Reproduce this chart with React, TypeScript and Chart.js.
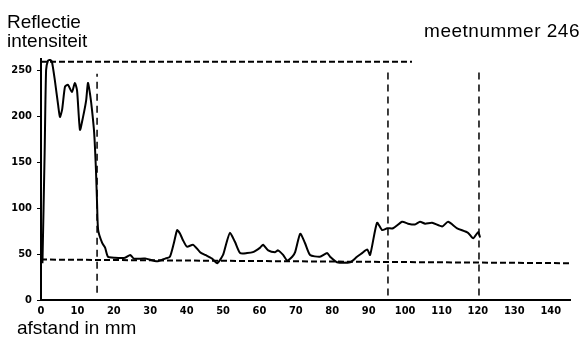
import React, { useEffect, useRef } from "react";
import { Chart, registerables } from "chart.js";

Chart.register(...registerables);

// ---- data ----
const distance = [
  0.4, 1.0, 1.4, 1.9, 2.5, 3.0, 3.8, 4.7, 5.2, 5.8, 6.6, 7.4, 8.5, 9.3, 9.9, 10.7, 11.5, 12.4, 12.9, 13.5, 14.0,
  14.6, 15.1, 15.4, 15.7, 16.8, 17.6, 18.4, 20.3, 23.1, 24.5, 25.5, 28.6, 31.9, 34.1, 35.4, 36.5, 37.4, 38.2,
  39.0, 40.1, 41.8, 43.7, 45.1, 47.0, 48.4, 50.0, 50.8, 51.9, 53.3, 54.7, 56.6, 58.2, 60.2, 61.0, 62.4, 64.3,
  65.1, 66.5, 67.6, 69.0, 69.8, 71.2, 72.5, 73.9, 76.6, 78.6, 79.4, 81.3, 84.9, 86.8, 88.2, 89.6, 90.4, 92.3,
  93.7, 95.1, 96.7, 99.2, 100.8, 102.7, 104.1, 105.5, 107.4, 110.2, 111.8, 114.3, 117.3, 118.7, 120.1, 120.6,
];
const intensity = [
  40, 160, 250, 260, 261, 259, 239, 212, 199, 207, 232, 234, 226, 236, 228, 185, 198, 217, 236, 223, 207,
  182, 141, 105, 76, 62, 57, 47, 46, 46, 49, 45, 45, 42, 45, 47, 62, 76, 72,
  65, 58, 60, 52, 49, 45, 40, 49, 60, 73, 63, 51, 51, 52, 57, 60, 54, 52,
  54, 49, 43, 47, 52, 72, 62, 49, 47, 51, 47, 41, 41, 47, 51, 55, 49, 84,
  76, 78, 78, 85, 83, 82, 85, 83, 84, 80, 85, 78, 73, 67, 74, 68,
];

const xTicks = [0, 10, 20, 30, 40, 50, 60, 70, 80, 90, 100, 110, 120, 130, 140];
const yTicks = [0, 50, 100, 150, 200, 250];

// dashed guide lines
const topLineX = [0, 101.9];
const topLineY = [259, 259];
const baseLineX = [0, 145.3];
const baseLineY = [44, 40];
const verticalX = [15.4, 95.3, 120.3];
const verticalFromY = [8, 5, 5];
const verticalToY = [246, 250, 250];

const X_MAX = 145.3;
const Y_MAX = 262;

const tickFont = {
  family: "'Liberation Sans Narrow', 'DejaVu Sans Condensed', 'DejaVu Sans', sans-serif",
  size: 11,
  weight: "bold" as const,
};

export default function App() {
  const ref = useRef<HTMLCanvasElement | null>(null);

  useEffect(() => {
    if (!ref.current) return;
    const pts = (xs: number[], ys: number[]) => xs.map((x, i) => ({ x, y: ys[i] }));

    const datasets: any[] = [
      {
        label: "reflectie",
        data: pts(distance, intensity),
        borderColor: "#000",
        borderWidth: 2,
        pointRadius: 0,
        tension: 0.2,
        fill: false,
        order: 0,
      },
      {
        label: "top",
        data: pts(topLineX, topLineY),
        borderColor: "#000",
        borderWidth: 2,
        borderDash: [6, 3],
        pointRadius: 0,
        order: 1,
      },
      {
        label: "base",
        data: pts(baseLineX, baseLineY),
        borderColor: "#000",
        borderWidth: 2,
        borderDash: [6, 3],
        pointRadius: 0,
        order: 1,
      },
      ...verticalX.map((vx, i) => ({
        label: "v" + i,
        data: [
          { x: vx, y: verticalFromY[i] },
          { x: vx, y: verticalToY[i] },
        ],
        borderColor: "#000",
        borderWidth: 1.5,
        borderDash: [7, 5],
        pointRadius: 0,
        order: 1,
      })),
    ];

    const chart = new Chart(ref.current, {
      type: "line",
      data: { datasets },
      options: {
        animation: false,
        responsive: false,
        layout: { padding: { top: 59, right: 15, bottom: 0, left: 0 } },
        plugins: {
          legend: { display: false },
          tooltip: { enabled: false },
          title: { display: false },
        },
        scales: {
          x: {
            type: "linear",
            min: 0,
            max: X_MAX,
            afterBuildTicks: (s: any) => {
              s.ticks = xTicks.map((v) => ({ value: v }));
            },
            afterFit: (s: any) => {
              s.height = 37;
            },
            grid: { display: false, drawTicks: false },
            border: { display: true, color: "#000", width: 2 },
            ticks: {
              color: "#000",
              font: tickFont,
              padding: 5,
              maxRotation: 0,
              autoSkip: false,
            },
          },
          y: {
            type: "linear",
            min: 0,
            max: Y_MAX,
            afterBuildTicks: (s: any) => {
              s.ticks = yTicks.map((v) => ({ value: v }));
            },
            afterFit: (s: any) => {
              s.width = 41;
            },
            grid: {
              display: true,
              drawOnChartArea: false,
              drawTicks: true,
              tickLength: 4,
              color: "#000",
              lineWidth: 1,
            },
            border: { display: true, color: "#000", width: 2 },
            ticks: {
              color: "#000",
              font: tickFont,
              padding: 5,
              autoSkip: false,
            },
          },
        },
      },
    });
    return () => chart.destroy();
  }, []);

  const labelFont: React.CSSProperties = {
    position: "absolute",
    fontFamily: "'Liberation Sans', Arial, sans-serif",
    fontSize: 19,
    lineHeight: "19px",
    color: "#000",
    whiteSpace: "nowrap",
  };

  return (
    <div
      style={{
        position: "fixed",
        left: 0,
        top: 0,
        width: 585,
        height: 337,
        background: "#fff",
        overflow: "hidden",
      }}
    >
      <canvas ref={ref} width={585} height={337} style={{ width: 585, height: 337, display: "block" }} />
      <div style={{ ...labelFont, left: 7, top: 12 }}>Reflectie</div>
      <div style={{ ...labelFont, left: 7, top: 31 }}>intensiteit</div>
      <div style={{ ...labelFont, right: 5, top: 21, letterSpacing: 0.5 }}>meetnummer 246</div>
      <div style={{ ...labelFont, left: 17, top: 318 }}>afstand in mm</div>
    </div>
  );
}
